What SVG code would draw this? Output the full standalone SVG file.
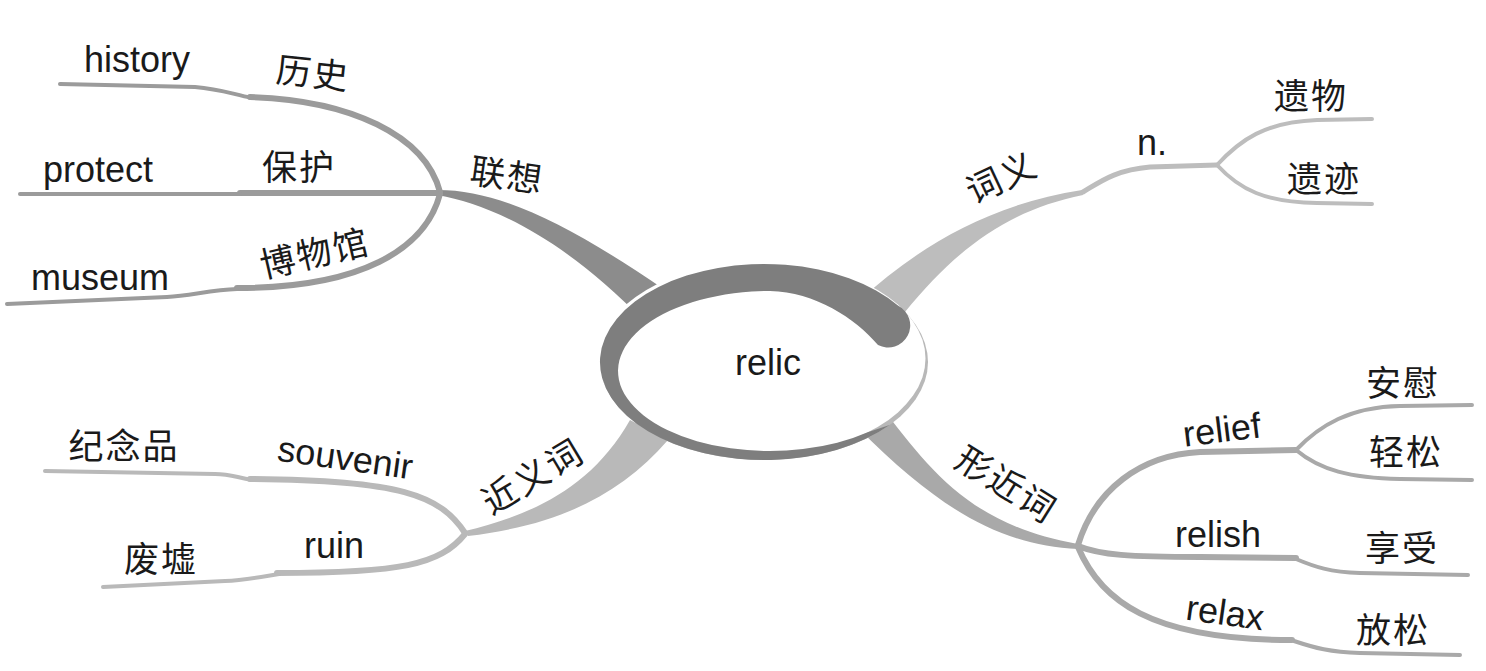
<svg xmlns="http://www.w3.org/2000/svg" width="1486" height="671" viewBox="0 0 1486 671">
<style>
.en{font-family:"Liberation Sans",Arial,sans-serif;font-size:36px;fill:#1a1a1a;text-anchor:middle}
.zh{font-family:"Noto Sans CJK SC",sans-serif;font-size:35px;fill:#1a1a1a;text-anchor:middle;letter-spacing:2px}
.l1{fill:none;stroke:#9b9b9b;stroke-linecap:round}
.l2{fill:none;stroke:#bdbdbd;stroke-linecap:round}
.l3{fill:none;stroke:#b9b9b9;stroke-linecap:round}
.l4{fill:none;stroke:#a9a9a9;stroke-linecap:round}
.w5{stroke-width:6}
.w3{stroke-width:4}
</style>
<rect width="1486" height="671" fill="#ffffff"/>
<g id="connectors">
  <!-- 联想 main branch -->
  <path d="M 438,190 C 500,190 570,225 665,290 L 645,322 C 560,235 490,205 438,195 Z" fill="#8c8c8c"/>
  <path class="l1 w5" d="M 440,192 C 425,135 350,100 250,97"/>
  <path class="l1 w3" d="M 252,98 C 232,94 220,89 195,87 L 60,84"/>
  <path class="l1 w5" d="M 440,193 L 240,193"/>
  <path class="l1 w3" d="M 240,194 L 20,194"/>
  <path class="l1 w5" d="M 440,194 C 425,250 360,288 237,288"/>
  <path class="l1 w3" d="M 237,289 C 210,290 190,296 167,297 L 7,304"/>
  <!-- 词义 branch -->
  <path d="M 860,300 C 915,250 985,205 1082,190 L 1083,195 C 1010,210 960,245 905,312 Z" fill="#bdbdbd"/>
  <path class="l2" stroke-width="5" d="M 1083,192 C 1100,182 1115,170 1150,167 L 1217,165"/>
  <path class="l2 w3" d="M 1217,165 C 1240,140 1265,122 1317,120 L 1372,119"/>
  <path class="l2 w3" d="M 1217,165 C 1240,190 1265,202 1317,203 L 1372,204"/>
  <!-- 近义词 branch -->
  <path d="M 465,531 C 530,515 590,490 630,420 L 668,440 C 620,495 560,525 468,536 Z" fill="#b9b9b9"/>
  <path class="l3 w5" d="M 465,533 C 440,495 400,480 250,479"/>
  <path class="l3 w3" d="M 252,480 C 235,477 230,474 215,474 L 45,471"/>
  <path class="l3 w5" d="M 465,534 C 440,565 400,573 277,573"/>
  <path class="l3 w3" d="M 279,574 C 260,577 245,580 225,581 L 103,587"/>
  <!-- 形近词 branch -->
  <path d="M 880,405 C 930,470 970,525 1078,544 L 1078,549 C 1000,545 940,510 858,428 Z" fill="#a9a9a9"/>
  <path class="l4 w5" d="M 1078,545 C 1095,490 1140,455 1200,452 L 1296,450"/>
  <path class="l4 w3" d="M 1296,450 C 1320,425 1350,407 1400,406 L 1472,405"/>
  <path class="l4 w3" d="M 1296,450 C 1320,470 1350,478 1400,479 L 1472,480"/>
  <path class="l4 w5" d="M 1078,546 C 1100,555 1130,557 1200,557 L 1296,558"/>
  <path class="l4 w3" d="M 1296,559 C 1315,567 1330,572 1360,573 L 1468,575"/>
  <path class="l4 w5" d="M 1078,547 C 1100,600 1150,640 1292,640"/>
  <path class="l4 w3" d="M 1294,641 C 1315,648 1330,652 1360,653 L 1460,655"/>
</g>
<g id="center">
  <ellipse cx="764" cy="362" rx="164" ry="98" fill="#b8b8b8"/>
  <ellipse cx="762" cy="358.5" rx="163.5" ry="97" fill="#ffffff"/>
  <path d="M 889.6,425 A 164 98 0 1 1 898.3,305.8 A 22 22 0 0 1 878,345 C 855,318 815,292 770,291 A 152 80 0 1 0 867.7,432.3 Z" fill="#7e7e7e"/>
  <text class="en" x="768" y="375">relic</text>
</g>
<g id="lianxiang">
  <text class="zh" transform="translate(507,176) rotate(8)" y="12">联想</text>
</g>
<g id="lishi"><text class="zh" transform="translate(313,74) rotate(6)" y="12">历史</text></g>
<g id="history"><text class="en" x="137" y="72">history</text></g>
<g id="baohu"><text class="zh" x="299" y="180">保护</text></g>
<g id="protect"><text class="en" x="98" y="182">protect</text></g>
<g id="bowuguan"><text class="zh" transform="translate(315,254) rotate(-13)" y="12">博物馆</text></g>
<g id="museum"><text class="en" x="100" y="290" font-size="37">museum</text></g>
<g id="ciyi">
  <text class="zh" transform="translate(1002,178) rotate(-25)" y="12">词义</text>
</g>
<g id="n"><text class="en" x="1152" y="155">n.</text></g>
<g id="yiwu"><text class="zh" x="1311" y="109">遗物</text></g>
<g id="yiji"><text class="zh" x="1324" y="192">遗迹</text></g>
<g id="jinyici">
  <text class="zh" transform="translate(533,477) rotate(-31)" y="12">近义词</text>
</g>
<g id="souvenir"><text class="en" transform="translate(345,460) rotate(8)" y="10">souvenir</text></g>
<g id="jinianpin"><text class="zh" x="124" y="459">纪念品</text></g>
<g id="ruin"><text class="en" x="334" y="558">ruin</text></g>
<g id="feixu"><text class="zh" x="161" y="572">废墟</text></g>
<g id="xingjinci">
  <text class="zh" transform="translate(1006,485) rotate(32)" y="12">形近词</text>
</g>
<g id="relief"><text class="en" transform="translate(1222,431) rotate(-7)" y="11">relief</text></g>
<g id="anwei"><text class="zh" x="1403" y="396">安慰</text></g>
<g id="qingsong"><text class="zh" x="1406" y="465">轻松</text></g>
<g id="relish"><text class="en" x="1218" y="547">relish</text></g>
<g id="xiangshou"><text class="zh" x="1402" y="561">享受</text></g>
<g id="relax"><text class="en" transform="translate(1225,614) rotate(8)" y="11">relax</text></g>
<g id="fangsong"><text class="zh" x="1393" y="643">放松</text></g>
</svg>
